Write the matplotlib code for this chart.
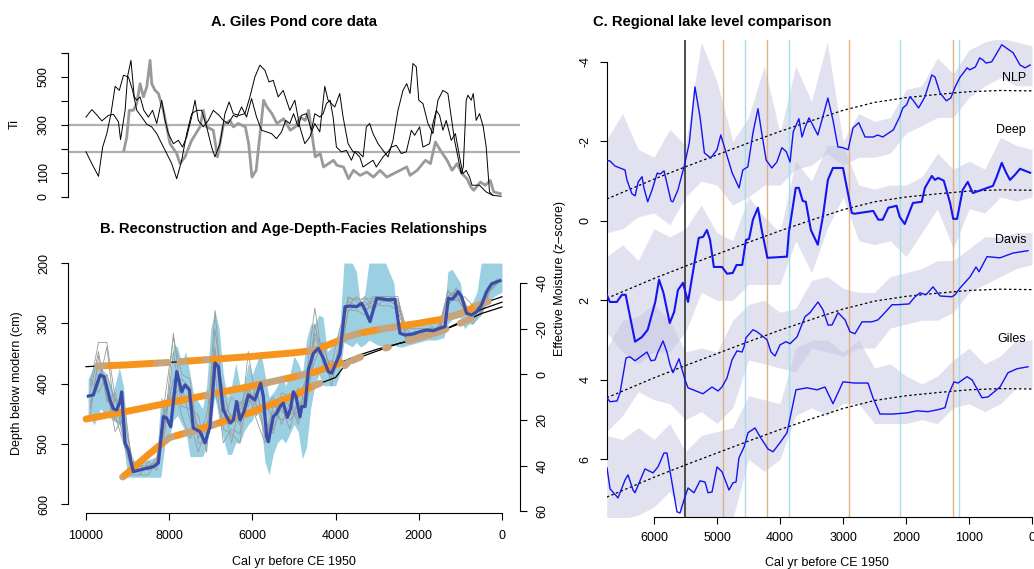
import numpy as np
import matplotlib
matplotlib.use("Agg")
import matplotlib.pyplot as plt

plt.rcParams['font.family'] = ['Liberation Sans', 'DejaVu Sans']
plt.rcParams['axes.unicode_minus'] = False
plt.rcParams['font.size'] = 9

# ---------------- A. Giles Pond core data (Ti) ----------------
ti1_age = [10000, 9860, 9730, 9620, 9460, 9340, 9220, 9170, 9060, 9000, 8920, 8840, 8780, 8700, 8610,
           8500, 8400, 8300, 8180, 8100, 8020, 7900, 7780, 7680, 7580, 7460, 7380, 7300, 7180, 7060,
           6940, 6800, 6700, 6580, 6460, 6370, 6260, 6140, 6020, 5900, 5780, 5660, 5540, 5420, 5300,
           5200, 5100, 5010, 4900, 4820, 4700, 4580, 4500, 4380, 4300, 4220, 4130, 4060, 3980, 3860,
           3740, 3620, 3540, 3420, 3340, 3220, 3100, 3020, 2860, 2740, 2660, 2540, 2420, 2300, 2180,
           2100, 1980, 1900, 1740, 1660, 1580, 1500, 1420, 1340, 1220, 1120, 1020, 940, 860, 780,
           720, 540, 380, 220, 20]
ti1 = [333, 364, 340, 317, 340, 344, 313, 239, 361, 503, 569, 417, 403, 417, 361,
       333, 361, 306, 403, 319, 264, 222, 236, 208, 250, 333, 403, 319, 292, 319,
       361, 340, 319, 306, 340, 333, 375, 333, 410, 333, 278, 271, 264, 243, 271,
       319, 306, 347, 292, 340, 347, 278, 347, 333, 347, 389, 403, 333, 208, 188,
       194, 153, 188, 167, 125, 139, 153, 125, 167, 188, 208, 215, 181, 188, 278,
       257, 292, 208, 222, 306, 361, 340, 278, 319, 236, 264, 167, 97, 111, 83,
       49, 49, 21, 7, 3]
ti2_age = [10000, 9860, 9700, 9600, 9500, 9400, 9300, 9200, 9100, 8980, 8880, 8780, 8660, 8540, 8420,
           8300, 8180, 8060, 7940, 7820, 7700, 7580, 7460, 7340, 7220, 7100, 6980, 6900, 6780, 6660,
           6560, 6460, 6320, 6180, 6060, 5940, 5820, 5700, 5600, 5500, 5380, 5260, 5100, 4980, 4860,
           4740, 4620, 4500, 4380, 4260, 4180, 4100, 4020, 3900, 3820, 3700, 3580, 3460, 3340, 3260,
           3180, 3100, 2980, 2860, 2740, 2620, 2500, 2380, 2290, 2210, 2140, 2060, 2000, 1900, 1780,
           1660, 1540, 1420, 1300, 1220, 1140, 1060, 980, 930, 860, 820, 740, 690, 620, 540,
           450, 380, 300, 220]
ti2 = [188, 139, 86, 208, 264, 347, 461, 444, 507, 500, 444, 361, 333, 303, 292,
       264, 222, 181, 139, 76, 153, 264, 347, 361, 361, 292, 208, 167, 222, 347,
       396, 347, 340, 347, 417, 500, 549, 528, 479, 486, 417, 444, 361, 403, 292,
       222, 250, 306, 271, 461, 403, 389, 375, 431, 333, 222, 188, 188, 167, 292,
       306, 264, 222, 194, 167, 236, 361, 444, 472, 431, 556, 542, 403, 389, 306,
       264, 403, 444, 431, 333, 236, 167, 97, 125, 403, 424, 403, 431, 319, 347,
       292, 208, 21, 7]
tig_age = [9090, 9020, 8960, 8860, 8780, 8700, 8620, 8540, 8460, 8420, 8340, 8260, 8140, 7980, 7820,
           7740, 7620, 7460, 7260, 7180, 7100, 6940, 6840, 6700, 6540, 6460, 6340, 6170, 6090, 6010,
           5910, 5730, 5650, 5530, 5410, 5250, 5090, 4970, 4850, 4730, 4650, 4570, 4490, 4370, 4290,
           4170, 4050, 3970, 3810, 3690, 3570, 3410, 3250, 3090, 2930, 2770, 2610, 2450, 2290, 2210,
           2040, 1840, 1720, 1600, 1480, 1320, 1200, 1080, 960, 840, 750, 680, 520, 400, 280,
           200, 40]
tig = [194, 250, 361, 361, 389, 472, 417, 458, 569, 472, 444, 431, 361, 222, 181,
       139, 167, 236, 292, 361, 292, 278, 167, 299, 319, 292, 306, 292, 222, 83,
       111, 403, 375, 347, 306, 326, 278, 292, 333, 319, 361, 264, 167, 181, 125,
       139, 153, 132, 125, 76, 111, 90, 104, 83, 111, 83, 97, 111, 125, 90,
       111, 153, 139, 229, 194, 153, 111, 139, 97, 76, 42, 28, 62, 49, 69,
       21, 14]
ti_ref = [300, 187]

# ---------------- B. Reconstruction and age-depth-facies ----------------
recon_age = [9944, 9824, 9663, 9567, 9423, 9343, 9263, 9183, 9143, 9063, 8983, 8863, 8702, 8382, 8262,
             8142, 8061, 7965, 7820, 7700, 7620, 7516, 7420, 7260, 7140, 7019, 6899, 6819, 6700, 6538,
             6459, 6378, 6298, 6202, 6098, 5938, 5801, 5737, 5657, 5617, 5497, 5417, 5337, 5256, 5160,
             5080, 5016, 4952, 4856, 4815, 4735, 4655, 4535, 4415, 4295, 4175, 4094, 3974, 3894, 3774,
             3654, 3494, 3373, 3293, 3173, 3013, 2853, 2733, 2572, 2452, 2332, 2132, 1971, 1811, 1651,
             1490, 1370, 1290, 1186, 1051, 971, 851, 731, 611, 491, 370, 250, 48]
recon = [9.5, 9.0, 0.3, 1.0, 11.2, 15.1, 15.6, 12.0, 7.7, 30.0, 33.1, 42.6, 41.8, 40.4, 38.8,
         18.5, 19.1, 22.9, -1.2, 7.6, 4.6, 6.8, 23.5, 25.1, 30.0, 22.9, -5.0, -3.4, 15.6, 21.3,
         20.0, 11.9, 20.0, 16.3, 9.0, 11.2, 3.9, 9.7, 27.3, 29.5, 18.5, 17.0, 14.1, 12.6, 18.8,
         14.8, 7.6, 9.7, 18.5, 14.1, 14.1, -2.0, -9.2, -11.4, -7.0, -1.2, -0.5, -5.6, -9.2, -29.6,
         -29.9, -29.6, -31.1, -28.2, -23.1, -33.3, -32.9, -32.6, -32.9, -18.0, -17.2, -17.7, -18.7, -19.4, -19.1,
         -20.2, -20.9, -33.3, -32.9, -36.2, -34.0, -26.7, -26.0, -27.4, -30.4, -36.2, -39.6, -41.0]

band_age = [9950, 9800, 9650, 9500, 9350, 9200, 9100, 9000, 8900, 8600,
            8300, 8200, 8100, 8000, 7900, 7800, 7700, 7600, 7500, 7400,
            7300, 7200, 7100, 7000, 6900, 6800, 6700, 6600, 6500, 6400,
            6300, 6200, 6100, 6000, 5900, 5800, 5700, 5600, 5500, 5400,
            5300, 5200, 5100, 5000, 4900, 4800, 4700, 4600, 4500, 4400,
            4300, 4200, 4100, 4000, 3900, 3800, 3700, 3600, 3500, 3400,
            3300, 3200, 3000, 2800, 2600, 2500, 2400, 2200, 2000, 1800,
            1600, 1400, 1300, 1200, 1000, 900, 800, 700, 600, 500,
            400, 300, 200, 100, 0]
band_hi = [2, -4, -3, 0, 8, -3, 5, 28, 38, 38,
           36, 10, 12, 5, -13, -12, -5, -10, 0, 10,
           12, 15, 5, -20, -28, -20, 0, 10, 5, -5,
           5, 5, -5, 0, -5, -10, 0, 10, 8, 5,
           0, 5, 0, -8, -5, 0, -15, -22, -22, -26,
           -25, -10, -12, -15, -20, -48.7, -48.7, -48.7, -45, -30,
           -35, -48.7, -48.7, -48.7, -40, -20, -22, -21, -22, -22,
           -23, -24, -45, -46, -40, -28, -30, -32, -36, -48.7,
           -48.7, -48.7, -48.7, -48.7, -48.7]
band_lo = [18, 22, 15, 18, 20, 22, 30, 45, 45, 45,
           45, 45, 30, 28, 20, 18, 22, 25, 36, 36,
           36, 36, 32, 20, 10, 20, 28, 35, 35, 30,
           30, 25, 22, 20, 15, 20, 38, 44, 35, 30,
           28, 30, 26, 22, 25, 37, 32, 15, 5, 0,
           5, 5, 5, 5, 0, -14, -13, -12, -14, -12,
           -13, -15, -13, -12, -13, -12, -12, -13, -14, -15,
           -15, -16, -22, -24, -25, -20, -22, -22, -24, -26,
           -30, -32, -34, -35, -36]

ens_age = np.arange(9900, 0, -200)
ens = [
    [5, -14, -14, 10, 28, 40, 40, 40, 40, 10, -16, 0, 2, 30, 30, -12, 24, 26, 30, 6,
     14, 26, 24, 14, 24, 10, 2, -16, -10, 5, -12, -33, -33, -33, -33, -33, -33, -33, -20, -20,
     -20, -20, -20, -30, -38, -30, -22, -28, -36, -40],
    [15, -5, 10, 20, 22, 44, 44, 44, 38, 25, -10, 14, 15, 18, 34, -20, 10, 30, 12, 14,
     5, 28, 14, 16, 20, 16, 10, -22, -4, -6, -5, -28, -28, -26, -34, -34, -34, -32, -15, -17,
     -17, -18, -22, -36, -34, -28, -28, -32, -38, -40],
    [12, 5, -12, 18, 30, 42, 42, 40, 38, 14, 10, 5, 20, 34, 22, 8, 20, 10, 14, 5,
     18, 12, 20, 8, 10, 20, 0, -29, -5, 2, -14, -32, -30, -32, -28, -32, -32, -30, -18, -16,
     -18, -20, -18, -34, -36, -32, -24, -30, -38, -42],
    [2, 8, 0, 12, 10, 38, 40, 42, 40, 22, -18, 10, 10, 24, 30, -28, 14, 18, 22, 12,
     8, 20, 26, 10, 14, 6, 14, -12, -8, -4, -20, -30, -34, -30, -32, -30, -30, -28, -16, -18,
     -19, -16, -20, -30, -35, -28, -26, -26, -36, -41],
    [18, -8, 6, 25, 18, 36, 44, 38, 42, 20, 2, 18, 28, 22, 26, -2, 30, 24, 26, -10,
     14, 14, 10, 22, 12, 22, 6, -6, -14, 0, -8, -28, -30, -34, -30, -34, -34, -34, -14, -19,
     -18, -21, -19, -37, -32, -34, -30, -27, -39, -41],
    [8, -10, 12, 8, 24, 42, 40, 42, 36, 16, 8, 2, 6, 28, 18, -8, 6, 22, 16, 8,
     20, 30, 16, 20, 18, 14, 8, -18, -12, -2, -10, -34, -32, -28, -30, -34, -32, -30, -20, -16,
     -20, -19, -21, -34, -37, -30, -28, -30, -37, -40],
]

# age-depth models (cm)
adm_age = [10000, 9000, 8000, 7000, 6000, 5000, 4500, 4000, 3700, 3400, 3000, 2500, 2000, 1500, 1000, 500, 0]
adm1 = [372, 369, 365, 360, 355, 349, 345, 331, 322, 316, 311, 305, 300, 294, 284, 268, 256]
adm2 = [459, 446, 432, 418, 404, 389, 381, 369, 360, 352, 343, 334, 326, 314, 298, 277, 265]
adm3_age = [9110, 8500, 8000, 7000, 6000, 5000, 4500, 4000, 3800, 3700, 3400, 3000, 2500, 2000, 1500, 1000, 500, 0]
adm3 = [555, 518, 490, 470, 447, 420, 403, 390, 372, 365, 356, 346, 334, 324, 314, 300, 284, 273]

# facies along each model: (from age, to age, facies)
fac1 = [(9720, 9430, 't'), (9430, 8300, 'o'), (8300, 8030, 't'), (7740, 7500, 't'), (7500, 7140, 'o'),
        (7140, 6950, 't'), (6950, 4620, 'o'), (4620, 4300, 't'), (4300, 3900, 'o'), (3900, 3330, 't'),
        (3330, 2930, 'o'), (2930, 2450, 't'), (2450, 1400, 'o'), (1400, 850, 't'), (850, 600, 'o'),
        (600, 330, 't')]
fac2 = [(10000, 7100, 'o'), (7100, 6800, 't'), (6800, 5700, 'o'), (5700, 5150, 't'), (5150, 4850, 'o'),
        (4850, 4550, 't'), (4550, 3880, 'o')]
fac3 = [(9120, 9060, 't'), (9060, 8080, 'o'), (8080, 7800, 't'), (7800, 7600, 'o'), (7600, 7270, 't'),
        (7270, 6950, 'o'), (6950, 6790, 't'), (6790, 6450, 'o'), (6450, 6150, 't'), (6150, 4500, 'o'),
        (4500, 4380, 't'), (3780, 3700, 't'), (3600, 3520, 't'), (3470, 3400, 't'), (2800, 2730, 't'),
        (2250, 1700, 't'), (1650, 1350, 't'), (1000, 750, 't')]
fac_color = {'o': '#F7941D', 't': '#C9A47A'}

# ---------------- C. Regional lake level comparison ----------------
nlp_age = [6746, 6700, 6620, 6460, 6430, 6350, 6300, 6250, 6190, 6160, 6100, 6030, 5950, 5900, 5840,
           5800, 5730, 5700, 5620, 5520, 5440, 5350, 5270, 5200, 5100, 5000, 4940, 4870, 4760, 4650,
           4590, 4510, 4430, 4350, 4290, 4220, 4130, 4050, 3970, 3900, 3840, 3790, 3700, 3650, 3600,
           3540, 3480, 3400, 3320, 3240, 3160, 3080, 3000, 2920, 2840, 2750, 2650, 2520, 2450, 2370,
           2200, 2100, 2050, 1990, 1940, 1890, 1800, 1700, 1590, 1540, 1460, 1360, 1290, 1220, 1140,
           1090, 1030, 990, 900, 830, 780, 730, 640, 480, 300, 190, 110, 30]
nlp = [-1.51, -1.51, -1.38, -1.28, -1.03, -0.68, -0.63, -0.98, -1.11, -0.83, -0.48, -0.78, -1.2, -1.18, -1.26,
       -0.98, -0.5, -0.48, -0.78, -1.38, -1.96, -3.37, -2.62, -1.71, -1.58, -1.79, -2.16, -1.79, -1.21, -0.83,
       -1.28, -1.36, -2.21, -2.82, -2.21, -1.53, -1.33, -1.48, -1.84, -1.74, -1.48, -2.24, -2.57, -2.11, -2.36,
       -2.59, -2.41, -2.16, -2.62, -3.09, -2.54, -1.86, -1.84, -1.79, -2.34, -2.47, -2.11, -2.11, -2.16, -2.11,
       -2.29, -2.62, -2.84, -2.92, -3.12, -3.04, -2.84, -3.12, -3.67, -3.62, -3.22, -3.02, -3.09, -3.37, -3.62,
       -3.72, -3.85, -3.8, -3.87, -4.1, -4.05, -3.97, -4.0, -4.43, -4.23, -3.92, -3.85, -3.92]
deep_age = [6750, 6700, 6590, 6510, 6450, 6300, 6190, 6100, 5980, 5920, 5850, 5750, 5680, 5620, 5540,
            5460, 5350, 5290, 5220, 5160, 5110, 5050, 4920, 4840, 4750, 4690, 4600, 4540, 4490, 4430,
            4350, 4290, 4200, 3890, 3860, 3750, 3700, 3640, 3590, 3510, 3400, 3320, 3240, 3160, 3000,
            2860, 2820, 2520, 2440, 2370, 2280, 2150, 2100, 2020, 1890, 1750, 1700, 1590, 1540, 1490,
            1400, 1300, 1250, 1190, 1100, 1020, 940, 620, 560, 480, 410, 350, 270, 190, 110, 30]
deep = [1.86, 2.04, 2.04, 1.86, 1.86, 3.04, 2.92, 2.74, 2.04, 1.48, 1.81, 2.57, 2.29, 1.74, 1.56,
        2.04, 0.98, 0.43, 0.4, 0.23, 0.48, 1.16, 1.16, 1.33, 1.31, 1.11, 1.11, 0.48, 0.45, -0.03,
        -0.33, 0.23, 0.93, 0.9, 0.3, -0.83, -0.83, -0.5, -0.48, 0.23, 0.6, -0.1, -1.03, -1.33, -1.33,
        -0.2, -0.18, -0.25, -0.03, -0.03, -0.33, -0.38, -0.1, 0.08, -0.45, -0.48, -0.83, -1.13, -1.03, -1.08,
        -1.01, -0.45, -0.05, -0.05, -0.78, -0.98, -0.7, -0.88, -1.11, -1.46, -1.21, -1.03, -1.16, -1.31, -1.26,
        -1.21]
davis_age = [6746, 6698, 6587, 6540, 6444, 6381, 6302, 6111, 6048, 5984, 5937, 5857, 5794, 5746, 5698,
             5603, 5508, 5460, 5381, 5222, 5079, 4984, 4921, 4841, 4762, 4683, 4603, 4571, 4540, 4429,
             4365, 4206, 4143, 4079, 4000, 3905, 3841, 3730, 3603, 3524, 3397, 3317, 3238, 3175, 3079,
             2968, 2889, 2810, 2698, 2540, 2444, 2365, 2222, 2143, 1952, 1857, 1778, 1683, 1571, 1460,
             1270, 1222, 1143, 984, 889, 841, 714, 508, 302, 63]
davis = [4.45, 4.55, 4.53, 4.33, 3.45, 3.42, 3.52, 3.3, 3.52, 3.5, 3.3, 3.02, 3.3, 3.62, 3.82,
         3.47, 4.0, 4.2, 4.25, 4.35, 4.18, 4.28, 4.18, 3.95, 3.5, 3.27, 3.3, 3.17, 2.94, 2.74,
         2.79, 2.99, 3.3, 3.4, 3.12, 3.04, 3.09, 2.92, 2.41, 2.31, 2.04, 2.24, 2.62, 2.62, 2.31,
         2.49, 2.79, 2.84, 2.54, 2.54, 2.49, 2.36, 2.11, 2.11, 2.09, 1.91, 1.81, 1.86, 1.66, 1.89,
         1.91, 1.86, 1.69, 1.41, 1.16, 1.28, 0.9, 0.93, 0.81, 0.75]
giles_age = [6746, 6698, 6571, 6460, 6413, 6333, 6302, 6143, 6016, 5937, 5841, 5794, 5730, 5635, 5587,
             5524, 5460, 5365, 5270, 5190, 5143, 5079, 5000, 4921, 4810, 4746, 4698, 4651, 4571, 4508,
             4397, 4317, 4190, 4111, 4000, 3889, 3746, 3571, 3413, 3286, 3159, 3000, 2810, 2603, 2524,
             2413, 2206, 1984, 1825, 1651, 1492, 1381, 1317, 1238, 1175, 1032, 952, 794, 698, 508,
             381, 238, 63]
giles = [6.21, 6.74, 6.97, 6.52, 6.39, 6.77, 6.84, 6.24, 6.34, 6.19, 5.84, 5.84, 6.44, 7.32, 7.35,
         7.02, 6.72, 6.84, 6.54, 6.57, 6.84, 6.82, 6.19, 6.31, 6.77, 6.59, 6.57, 5.96, 5.69, 5.33,
         5.21, 5.43, 5.74, 5.81, 5.58, 5.33, 4.25, 4.2, 4.25, 4.18, 4.6, 4.05, 4.08, 4.08, 4.45,
         4.86, 4.86, 4.83, 4.78, 4.8, 4.75, 4.7, 4.33, 4.05, 4.08, 3.92, 4.0, 4.45, 4.43, 4.18,
         3.82, 3.72, 3.67]

c_grid = np.arange(6750, -1, -250)
nlp_hi = [-2.05, -2.7, -1.8, -1.6, -2.3, -1.9, -4.5, -3.5, -2.0, -2.6, -3.9, -2.2, -3.9, -3.0,
          -4.5, -2.0, -2.7, -2.5, -2.6, -3.3, -3.4, -4.1, -3.7, -4.3, -4.5, -4.6, -4.5, -4.4]
nlp_lo = [0.3, 0.2, -0.1, -0.2, 0.1, -0.6, -1.0, -0.9, -0.4, -0.6, -0.9, -0.9, -1.3, -1.4,
          -1.7, -1.4, -1.6, -1.6, -1.7, -2.2, -2.4, -2.6, -2.6, -3.1, -3.4, -3.6, -3.4, -3.4]
deep_hi = [0.9, 0.6, 1.0, 0.2, 0.4, 0.2, -0.4, 0.3, 0.5, -0.6, -0.1, 0.3, -1.5, -1.0,
           -1.9, -1.9, -0.9, -0.8, -0.9, -0.9, -1.1, -1.7, -1.3, -1.5, -1.3, -2.1, -1.9, -1.8]
deep_lo = [2.8, 3.3, 3.6, 3.3, 3.3, 2.8, 1.8, 2.0, 2.0, 1.6, 1.6, 1.6, 0.5, 1.3,
           0.2, -0.6, 0.5, 0.6, 0.5, 0.9, 0.3, -0.3, 0.7, -0.3, -0.2, -0.6, -0.5, -0.6]
davis_hi = [3.2, 2.5, 2.4, 2.1, 2.5, 3.3, 3.2, 3.3, 2.5, 2.1, 2.0, 2.3, 2.2, 1.5,
            1.4, 1.7, 1.8, 1.8, 1.4, 1.3, 1.2, 1.0, 1.0, 0.7, 0.4, 0.4, 0.3, 0.3]
davis_lo = [5.3, 4.9, 4.3, 4.5, 4.6, 5.0, 4.8, 5.1, 4.7, 3.5, 3.6, 3.7, 3.8, 3.2,
            3.3, 3.4, 3.2, 3.2, 2.7, 2.6, 2.5, 2.5, 2.3, 1.8, 1.6, 1.4, 1.2, 1.1]
giles_hi = [5.4, 5.5, 5.2, 5.5, 5.1, 5.8, 5.4, 5.3, 5.2, 4.4, 4.5, 4.6, 3.2, 3.0,
            3.0, 3.3, 3.0, 3.7, 3.6, 3.9, 4.1, 3.9, 3.5, 3.2, 3.6, 3.4, 3.0, 3.0]
giles_lo = [7.5, 7.5, 7.4, 7.2, 6.8, 7.5, 7.5, 7.5, 7.5, 6.0, 6.3, 6.0, 4.9, 4.7,
            4.9, 4.6, 4.6, 5.1, 5.1, 5.1, 5.0, 5.1, 4.7, 4.6, 4.8, 4.6, 4.2, 4.2]

# insolation-like trend (dotted), shown for each lake with a 2.5 offset
trend_age = [6750, 6000, 5500, 5000, 4500, 4000, 3500, 3000, 2500, 2000, 1500, 1000, 500, 0]
trend = [-0.55, -1.05, -1.36, -1.66, -1.96, -2.25, -2.52, -2.78, -2.98, -3.1, -3.18, -3.25, -3.28, -3.27]
lake_offsets = [0, 2.5, 5.0, 7.5]
lake_names = ['NLP', 'Deep', 'Davis', 'Giles']

event_dry = [4900, 4200, 2900, 1250]
event_wet = [4550, 3850, 2100, 1160]
event_main = 5500

# ---------------- figure ----------------
W, H = 1034, 569
fig = plt.figure(figsize=(W / 100, H / 100), dpi=100)


def px_axes(l, t, r, b):
    return fig.add_axes([l / W, 1 - b / H, (r - l) / W, (b - t) / H])


def style(ax, sides):
    for name, sp in ax.spines.items():
        sp.set_visible(name in sides)
        sp.set_linewidth(0.8)
    ax.tick_params(direction='out', length=5, width=0.8, labelsize=9)


def ylab(ax, text, x):
    ax.set_ylabel(text, fontsize=9)
    ax.yaxis.set_label_coords(x, 0.5)
    ax.yaxis.label.set_va('center')


def xlab(ax, text, y):
    ax.set_xlabel(text, fontsize=9)
    ax.xaxis.set_label_coords(0.5, y)
    ax.xaxis.label.set_va('center')


# ---- A ----
axA = px_axes(68, 45, 520, 203)
axA.set_xlim(10433, -433)
axA.set_ylim(-25, 633)
for v in ti_ref:
    axA.axhline(v, color='#B0B0B0', lw=1.6, zorder=1)
axA.plot(tig_age, tig, color='#9A9A9A', lw=2.0, zorder=2)
axA.plot(ti1_age, ti1, color='black', lw=0.7, zorder=3)
axA.plot(ti2_age, ti2, color='black', lw=0.7, zorder=3)
style(axA, ['left'])
axA.spines['left'].set_bounds(0, 600)
axA.set_xticks([])
axA.set_yticks(range(0, 700, 100), labels=['0', '100', '', '300', '', '500', ''],
               rotation=90, va='center')
axA.tick_params(axis='y', pad=8)
ylab(axA, 'Ti', -0.119)

# ---- B ----
axB = px_axes(68, 253, 520, 513)
axB.set_xlim(10433, -433)
axB.set_ylim(614.9, 183.4)
axB2 = axB.twinx()
axB2.set_ylim(60.66, -53.1)
trB = axB2.transData

axB.fill_between(band_age, band_lo, band_hi, color='#9BD0E2', lw=0, transform=trB, zorder=1)
for g in ens:
    axB.plot(ens_age, g, color='#9A9A9A', lw=0.6, transform=trB, zorder=2)
axB.plot(adm_age, adm1, color='black', lw=0.9, zorder=3)
axB.plot(adm_age, adm2, color='black', lw=0.9, zorder=3)
axB.plot(adm3_age, adm3, color='black', lw=0.9, zorder=3)
for age_m, dep_m, segs in [(adm_age, adm1, fac1), (adm_age, adm2, fac2), (adm3_age, adm3, fac3)]:
    for s, e, k in segs:
        a = np.linspace(s, e, 25)
        d = np.interp(a, age_m[::-1], dep_m[::-1])
        axB.plot(a, d, color=fac_color[k], lw=5, solid_capstyle='round', zorder=4)
axB.plot(recon_age, recon, color='#3B4DA8', lw=2.3, transform=trB, zorder=5)

style(axB, ['left', 'bottom'])
axB.spines['left'].set_bounds(200, 600)
axB.spines['bottom'].set_bounds(10000, 0)
axB.set_xticks(range(10000, -1, -2000), labels=[str(v) for v in range(10000, -1, -2000)])
axB.tick_params(axis='x', pad=7)
axB.set_yticks(range(200, 700, 100), labels=[str(v) for v in range(200, 700, 100)],
               rotation=90, va='center')
axB.tick_params(axis='y', pad=8)
ylab(axB, 'Depth below modern (cm)', -0.113)
xlab(axB, 'Cal yr before CE 1950', -0.188)

style(axB2, ['right'])
axB2.spines['right'].set_bounds(-40, 60)
axB2.set_yticks(range(-40, 61, 20), labels=[str(v) for v in range(-40, 61, 20)],
                rotation=90, va='center')
axB2.tick_params(axis='y', pad=7)

# ---- C ----
axC = px_axes(607, 40, 1047, 517)
axC.set_xlim(6746, -238)
axC.set_ylim(7.45, -4.55)
for lo, hi in [(nlp_lo, nlp_hi), (deep_lo, deep_hi), (davis_lo, davis_hi), (giles_lo, giles_hi)]:
    axC.fill_between(c_grid, lo, hi, color='#C4C4E2', alpha=0.5, lw=0, zorder=1)
for x in event_dry:
    axC.axvline(x, color='#DEB283', lw=1.0, zorder=2)
for x in event_wet:
    axC.axvline(x, color='#A8DCEB', lw=1.0, zorder=2)
axC.axvline(event_main, color='#4D4D4D', lw=1.4, zorder=2)
for off in lake_offsets:
    axC.plot(trend_age, np.array(trend) + off, color='black', lw=0.9, ls=(0, (2, 2)), zorder=3)
axC.plot(nlp_age, nlp, color='#1414F0', lw=1.0, zorder=4)
axC.plot(deep_age, deep, color='#1414F0', lw=1.5, zorder=4)
axC.plot(davis_age, davis, color='#1414F0', lw=1.0, zorder=4)
axC.plot(giles_age, giles, color='#1414F0', lw=1.0, zorder=4)
for name, yv in zip(lake_names, [-3.6, -2.29, 0.48, 2.97]):
    axC.text(95, yv, name, ha='right', va='center', fontsize=9)

style(axC, ['left', 'bottom'])
axC.spines['left'].set_bounds(-4, 6)
axC.spines['bottom'].set_bounds(6000, 0)
axC.set_xticks(range(6000, -1, -1000), labels=[str(v) for v in range(6000, -1, -1000)])
axC.tick_params(axis='x', pad=6)
axC.set_yticks(range(-4, 7, 2), labels=[str(v) for v in range(-4, 7, 2)], rotation=90, va='center')
axC.tick_params(axis='y', pad=6)
ylab(axC, 'Effective Moisture (z\u2013score)', -0.107)
xlab(axC, 'Cal yr before CE 1950', -0.096)

# titles
fig.text(294 / W, 1 - 22 / H, 'A. Giles Pond core data', ha='center', va='center',
         fontsize=10.6, fontweight='bold')
fig.text(294 / W, 1 - 229 / H, 'B. Reconstruction and Age-Depth-Facies Relationships',
         ha='center', va='center', fontsize=10.6, fontweight='bold')
fig.text(593 / W, 1 - 22 / H, 'C. Regional lake level comparison', ha='left', va='center',
         fontsize=10.6, fontweight='bold')

fig.savefig('out.png', dpi=100)
